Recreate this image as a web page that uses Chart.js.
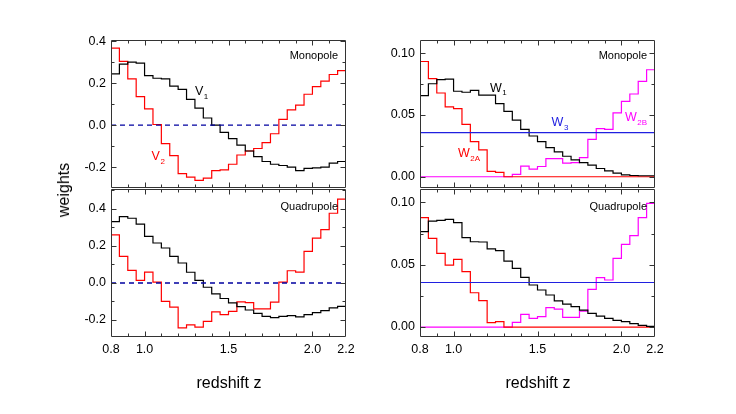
<!DOCTYPE html>
<html><head><meta charset="utf-8">
<script src="https://cdn.jsdelivr.net/npm/chart.js@4/dist/chart.umd.min.js"></script>
<style>
html,body{margin:0;padding:0;background:#fff;}
#wrap{position:relative;width:736px;height:414px;overflow:hidden;font-family:"Liberation Sans",Arial,sans-serif;}
canvas{position:absolute;}
.t{position:absolute;color:#000;font-size:16px;white-space:nowrap;line-height:1;}
</style></head>
<body>
<div id="wrap">
<canvas id="c1"></canvas><canvas id="c2"></canvas><canvas id="c3"></canvas><canvas id="c4"></canvas>
<div class="t" id="ylab" style="left:64px;top:190px;transform:translate(-50%,-50%) rotate(-90deg);">weights</div>
<div class="t" style="left:229px;top:375px;transform:translateX(-50%);">redshift z</div>
<div class="t" style="left:538px;top:375px;transform:translateX(-50%);">redshift z</div>
</div>
<script>
// ---- data ----
const zEdges = [0.80,0.85,0.90,0.95,1.00,1.05,1.10,1.15,1.20,1.25,1.30,1.35,1.40,1.45,1.50,1.55,1.60,1.65,1.70,1.75,1.80,1.85,1.90,1.95,2.00,2.05,2.10,2.15,2.20];
const V1_mono = [0.244,0.290,0.300,0.295,0.236,0.223,0.220,0.186,0.170,0.123,0.081,0.034,0.000,-0.034,-0.064,-0.095,-0.123,-0.150,-0.173,-0.186,-0.192,-0.200,-0.216,-0.206,-0.203,-0.200,-0.181,-0.173];
const V2_mono = [0.366,0.303,0.220,0.136,0.077,0.003,-0.088,-0.145,-0.231,-0.247,-0.263,-0.252,-0.216,-0.213,-0.186,-0.142,-0.123,-0.111,-0.083,-0.041,0.027,0.073,0.095,0.147,0.183,0.209,0.241,0.259];
const V1_quad = [0.332,0.359,0.350,0.318,0.252,0.216,0.189,0.144,0.108,0.058,0.014,-0.023,-0.059,-0.084,-0.108,-0.128,-0.146,-0.164,-0.180,-0.187,-0.180,-0.176,-0.183,-0.171,-0.160,-0.149,-0.135,-0.126];
const V2_quad = [0.260,0.144,0.068,0.014,0.059,0.005,-0.099,-0.131,-0.243,-0.226,-0.239,-0.207,-0.156,-0.171,-0.153,-0.102,-0.106,-0.140,-0.140,-0.104,0.005,0.066,0.059,0.171,0.243,0.288,0.377,0.453];
const W1_mono = [0.0657,0.0753,0.0786,0.0791,0.0692,0.0684,0.0700,0.0660,0.0660,0.0592,0.0530,0.0458,0.0383,0.0330,0.0284,0.0236,0.0201,0.0166,0.0137,0.0115,0.0094,0.0067,0.0048,0.0030,0.0016,0.0010,0.0008,0.0008];
const W2A_mono = [0.0933,0.0794,0.0678,0.0566,0.0552,0.0424,0.0284,0.0217,0.0043,0.0035,0,0,0,0,0,0,0,0,0,0,0,0,0,0,0,0,0,0];
const W2B_mono = [0,0,0,0,0,0,0,0,0,0,0,0.0020,0.0086,0.0062,0.0083,0.0147,0.0147,0.0110,0.0115,0.0155,0.0303,0.0389,0.0383,0.0517,0.0611,0.0670,0.0772,0.0866];
const W1_quad = [0.0765,0.0850,0.0856,0.0864,0.0837,0.0717,0.0684,0.0682,0.0626,0.0612,0.0529,0.0470,0.0398,0.0337,0.0297,0.0257,0.0209,0.0184,0.0163,0.0136,0.0110,0.0088,0.0070,0.0053,0.0043,0.0027,0.0013,0.0005];
const W2A_quad = [0.0877,0.0711,0.0591,0.0497,0.0543,0.0444,0.0275,0.0211,0.0035,0.0043,0,0,0,0,0,0,0,0,0,0,0,0,0,0,0,0,0,0];
const W2B_quad = [0,0,0,0,0,0,0,0,0,0,0,0.0037,0.0102,0.0070,0.0083,0.0155,0.0144,0.0078,0.0078,0.0128,0.0302,0.0396,0.0377,0.0551,0.0663,0.0733,0.0877,0.0992];
const W3_level = 0.0357;
const V_zero = 0.0;
const xTickLabels = [0.8,1.0,1.5,2.0,2.2];
const xMajor = [1.0,1.5,2.0];
const xMinor = [0.9,1.1,1.2,1.3,1.4,1.6,1.7,1.8,1.9,2.1];
const yTicksV = [-0.2,0.0,0.2,0.4];
const yMinorV = [-0.3,-0.1,0.1,0.3,0.5];
const yTicksW = [0.00,0.05,0.10];
const yMinorW = [0.025,0.075];

// ---- helpers ----
const FONT = '"Liberation Sans", Arial, sans-serif';
function hist(vals){
  const pts = vals.map((v,i)=>({x:zEdges[i], y:v}));
  pts.push({x:zEdges[zEdges.length-1], y:vals[vals.length-1]});
  return pts;
}
function flat(v){ return [{x:zEdges[0],y:v},{x:zEdges[zEdges.length-1],y:v}]; }
function ds(data,color,extra){
  return Object.assign({data, borderColor:color, borderWidth:1.2, pointRadius:0, fill:false, stepped:true, tension:0}, extra||{});
}

const framePlugin = {
  id:'frame',
  afterDatasetsDraw(chart){
    const o = chart.options.plugins.frame;
    const {ctx, chartArea:a, scales:{x,y}} = chart;
    ctx.save();
    ctx.strokeStyle = '#333'; ctx.lineWidth = 1;
    const L=Math.round(a.left)+0.5, R=Math.round(a.right)-0.5, T=Math.round(a.top)+0.5, B=Math.round(a.bottom)-0.5;
    ctx.beginPath(); ctx.rect(L,T,R-L,B-T); ctx.stroke();
    ctx.beginPath();
    const xt=(vals,len)=>vals.forEach(v=>{const px=Math.round(x.getPixelForValue(v))+0.5; ctx.moveTo(px,B); ctx.lineTo(px,B-len); ctx.moveTo(px,T); ctx.lineTo(px,T+len);});
    const yt=(vals,len)=>vals.forEach(v=>{const py=Math.round(y.getPixelForValue(v))+0.5; if(py<T||py>B) return; ctx.moveTo(L,py); ctx.lineTo(L+len,py); ctx.moveTo(R,py); ctx.lineTo(R-len,py);});
    xt(xMajor,5); xt(xMinor,3);
    yt(o.yMajor,5); yt(o.yMinor,3);
    ctx.stroke();
    // panel label
    ctx.fillStyle='#000'; ctx.font='11px '+FONT; ctx.textAlign='right'; ctx.textBaseline='alphabetic';
    ctx.fillText(o.panel, a.right-8, a.top+o.panelDy);
    // series labels
    (o.labels||[]).forEach(l=>{
      const px = x.getPixelForValue(l.z), py = y.getPixelForValue(l.v);
      ctx.textAlign='left'; ctx.fillStyle=l.color;
      ctx.font='12.5px '+FONT; ctx.fillText(l.main, px, py);
      const w = ctx.measureText(l.main).width;
      ctx.font='8px '+FONT; ctx.fillText(l.sub, px+w+0.5, py+3.5);
    });
    ctx.restore();
  }
};

function makePanel(id, left, top, showX, yMin, yMax, yTicks, yMinor, dec, datasets, panel, panelDy, labels){
  const padL=50, padT=18, padR=22, padB= showX?0:18, xH=30;
  const w=235, h=148;
  const cv=document.getElementById(id);
  const W=padL+w+padR, H=padT+h+(showX?xH:padB);
  cv.width=W; cv.height=H; cv.style.width=W+'px'; cv.style.height=H+'px';
  cv.style.left=(left-padL)+'px'; cv.style.top=(top-padT)+'px';
  new Chart(cv,{
    type:'line',
    data:{datasets},
    options:{
      responsive:false, animation:false, devicePixelRatio:1,
      layout:{padding:{left:0,top:padT,right:padR,bottom:padB}},
      plugins:{legend:{display:false}, tooltip:{enabled:false},
        frame:{yMajor:yTicks, yMinor:yMinor, panel, panelDy, labels}},
      scales:{
        x:{type:'linear', min:0.8, max:2.2, display:showX,
           grid:{display:false, drawTicks:false}, border:{display:false},
           afterBuildTicks:s=>{s.ticks=xTickLabels.map(v=>({value:v}));},
           afterFit:s=>{s.height=showX?xH:0;},
           ticks:{autoSkip:false, maxRotation:0, padding:5, color:'#000', font:{family:FONT,size:12.5}, callback:v=>Number(v).toFixed(1)}},
        y:{type:'linear', min:yMin, max:yMax,
           grid:{display:false, drawTicks:false}, border:{display:false},
           afterBuildTicks:s=>{s.ticks=yTicks.map(v=>({value:v}));},
           afterFit:s=>{s.width=padL;},
           ticks:{autoSkip:false, padding:5, color:'#000', font:{family:FONT,size:12.5}, callback:v=>Number(v).toFixed(dec)}}
      }
    },
    plugins:[framePlugin]
  });
}

const dash = {borderDash:[5,4], stepped:false, borderColor:'#0000a0', borderWidth:1.3};
makePanel('c1',111,40,false,-0.299,0.405,yTicksV,yMinorV,1,[
  ds(flat(V_zero),'#0000a0',dash),
  ds(hist(V1_mono),'#000'),
  ds(hist(V2_mono),'#ff0000')
],'Monopole',19,[
  {z:1.300,v:0.142,main:'V',sub:'1',color:'#000'},
  {z:1.042,v:-0.167,main:'V',sub:'2',color:'#ff0000'}
]);
makePanel('c2',111,189,true,-0.292,0.508,yTicksV,yMinorV,1,[
  ds(flat(V_zero),'#0000a0',dash),
  ds(hist(V1_quad),'#000'),
  ds(hist(V2_quad),'#ff0000')
],'Quadrupole',21,[]);
makePanel('c3',420,40,false,-0.0091,0.1107,yTicksW,yMinorW,2,[
  ds(flat(W3_level),'#2020e0',{stepped:false}),
  ds(hist(W1_mono),'#000'),
  ds(hist(W2A_mono),'#ff0000'),
  ds(hist(W2B_mono),'#ff00ff')
],'Monopole',19,[
  {z:1.217,v:0.0689,main:'W',sub:'1',color:'#000'},
  {z:1.584,v:0.0408,main:'W',sub:'3',color:'#2020e0'},
  {z:2.021,v:0.0450,main:'W',sub:'2B',color:'#ff00ff'},
  {z:1.026,v:0.0158,main:'W',sub:'2A',color:'#ff0000'}
]);
makePanel('c4',420,189,true,-0.008,0.1107,yTicksW,yMinorW,2,[
  ds(flat(W3_level),'#2020e0',{stepped:false}),
  ds(hist(W1_quad),'#000'),
  ds(hist(W2A_quad),'#ff0000'),
  ds(hist(W2B_quad),'#ff00ff')
],'Quadrupole',21,[]);
</script>
</body></html>
